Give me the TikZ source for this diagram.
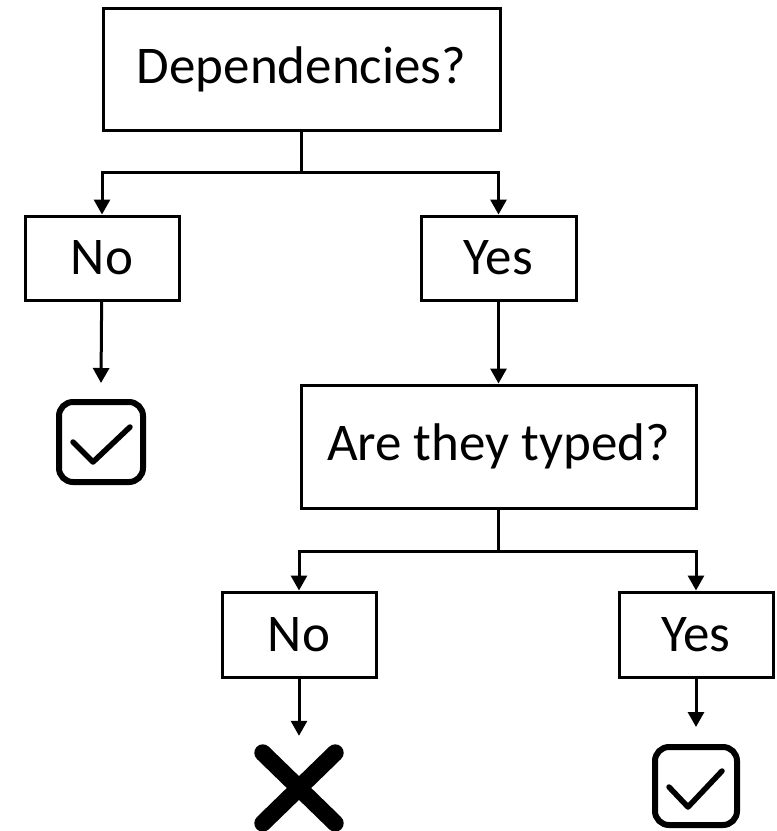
\documentclass[tikz,border=0pt]{standalone}
\usepackage{fontspec}
\setmainfont{Carlito}
\usetikzlibrary{arrows.meta}
\begin{document}
\begin{tikzpicture}[x=1pt,y=-1pt,
  box/.style={draw,line width=3pt,inner sep=0pt,font=\fontsize{53}{60}\selectfont},
  conn/.style={line width=3pt},
  arr/.style={line width=3pt,-{Triangle[length=15pt,width=16pt]}},
  chk/.style={draw,line width=6pt,rounded corners=14pt,inner sep=0pt},
  tick/.style={line width=5.5pt,line cap=round,line join=round}]
\useasboundingbox (0,0) rectangle (777,831);
\node[box,minimum width=397pt,minimum height=122pt] (dep) at (301.5,69) {Dependencies?};
\node[box,minimum width=154pt,minimum height=84pt] (no1) at (102,258) {No};
\node[box,minimum width=155pt,minimum height=84pt] (yes1) at (498.5,258) {Yes};
\node[box,minimum width=395pt,minimum height=123pt] (are) at (498.5,446.5) {Are they typed?};
\node[box,minimum width=154pt,minimum height=85pt] (no2) at (299,634.5) {No};
\node[box,minimum width=154pt,minimum height=85pt] (yes2) at (696,634.5) {Yes};
\node[chk,minimum width=84pt,minimum height=80pt] (chk1) at (101,442) {};
\node[chk,minimum width=82pt,minimum height=78pt] (chk2) at (696,786) {};
\node[minimum width=72pt,minimum height=70pt,inner sep=0pt] (cross) at (299,788) {};
\coordinate (j1) at (301.5,172);
\coordinate (j2) at (498.5,551);
% connectors
\draw[conn] (dep) -- (j1);
\draw[arr] (j1) -| (no1);
\draw[arr] (j1) -| (yes1);
\draw[arr] (no1) -- ([yshift=16pt]chk1.north);
\draw[arr] (yes1) -- (are);
\draw[conn] (are) -- (j2);
\draw[arr] (j2) -| (no2);
\draw[arr] (j2) -| (yes2);
\draw[arr] (no2) -- ([yshift=17pt]cross.north);
\draw[arr] (yes2) -- ([yshift=17pt]chk2.north);
% icons
\draw[tick] ([shift={(-28,0)}]chk1.center) -- ([shift={(-8,20)}]chk1.center) -- ([shift={(29,-15)}]chk1.center);
\draw[tick] ([shift={(-27,1)}]chk2.center) -- ([shift={(-8,21)}]chk2.center) -- ([shift={(26,-15)}]chk2.center);
\draw[line width=17pt,line cap=round] (cross.north west) -- (cross.south east);
\draw[line width=17pt,line cap=round] (cross.north east) -- (cross.south west);
\end{tikzpicture}
\end{document}
